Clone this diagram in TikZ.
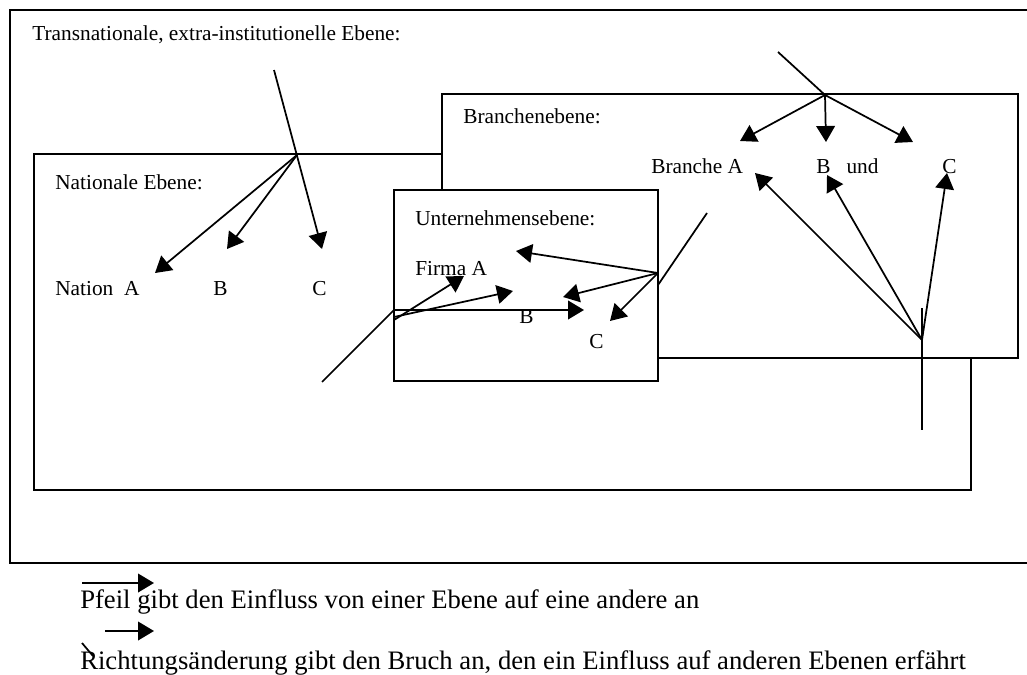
\documentclass[tikz,border=0pt]{standalone}
\usepackage{fontspec}
\setmainfont{Liberation Serif}
\usetikzlibrary{arrows.meta}
\tikzstyle{box} = [draw, fill=white, line width=1.5pt]
\tikzstyle{line} = [draw, line width=1.3pt, -{Triangle[length=12pt, width=14pt]}]
\tikzstyle{brk} = [draw, line width=1.3pt]
\tikzstyle{txt} = [anchor=base west, inner sep=0pt, font=\fontsize{16}{19}\selectfont]
\tikzstyle{note} = [anchor=base west, inner sep=0pt, font=\fontsize{20}{24}\selectfont]

\begin{document}
\begin{tikzpicture}[x=0.75pt, y=-0.75pt]
    \useasboundingbox (0,0) rectangle (1027,674);
    % Draw levels
    \draw [line width=1.5pt] (1035,10) -- (10,10) -- (10,563) -- (1035,563);
    \draw [box] (34,154) rectangle (971,490);
    \draw [box] (442,94) rectangle (1018,358);
    \draw [box] (394,190) rectangle (658,381);
    % Place nodes
    \node [txt] (trans) at (32,41) {Transnationale, extra-institutionelle Ebene:};
    \node [txt] (nat) at (55,189) {Nationale Ebene:};
    \node [txt] (natA) at (55,295) {Nation\ \ A};
    \node [txt] (natB) at (213,295) {B};
    \node [txt] (natC) at (312,295) {C};
    \node [txt] (bra) at (463,123) {Branchenebene:};
    \node [txt] (braA) at (651,173) {Branche A};
    \node [txt] (braB) at (816,173) {B\ \ \ und};
    \node [txt] (braC) at (942,173) {C};
    \node [txt] (unt) at (415,225) {Unternehmensebene:};
    \node [txt] (firA) at (415,275) {Firma A};
    \node [txt] (firB) at (519,323) {B};
    \node [txt] (firC) at (589,348) {C};
    % Place break points and arrow ends
    \coordinate (transIn) at (274,70);
    \coordinate (natJ) at (297,155);
    \coordinate (natToA) at (155,273);
    \coordinate (natToB) at (227,249);
    \coordinate (natToC) at (322,249);
    \coordinate (braIn) at (778,52);
    \coordinate (braJ) at (825,95);
    \coordinate (braToA) at (740,141);
    \coordinate (braToB) at (826,142);
    \coordinate (braToC) at (913,142);
    \coordinate (upTop) at (922,308);
    \coordinate (upBot) at (922,430);
    \coordinate (upJ) at (922,340);
    \coordinate (upToA) at (755,173);
    \coordinate (upToB) at (827,175);
    \coordinate (upToC) at (947,173);
    \coordinate (firIn) at (707,213);
    \coordinate (firEdge) at (658,285);
    \coordinate (firJ) at (658,273);
    \coordinate (firToA) at (516,251);
    \coordinate (firToB) at (563,297);
    \coordinate (firToC) at (610,321);
    \coordinate (natIn) at (322,382);
    \coordinate (natJ2) at (394,310);
    \coordinate (natJ3) at (394,320);
    \coordinate (natJ4) at (394,317);
    \coordinate (natToFA) at (464,276);
    \coordinate (natToFB) at (513,291);
    \coordinate (natToFC) at (584,310);
    % Draw edges
    \path [line] (transIn) -- (natToC);
    \path [line] (natJ) -- (natToA);
    \path [line] (natJ) -- (natToB);
    \path [brk] (braIn) -- (braJ);
    \path [line] (braJ) -- (braToA);
    \path [line] (braJ) -- (braToB);
    \path [line] (braJ) -- (braToC);
    \path [brk] (upTop) -- (upBot);
    \path [line] (upJ) -- (upToA);
    \path [line] (upJ) -- (upToB);
    \path [line] (upJ) -- (upToC);
    \path [brk] (firIn) -- (firEdge);
    \path [line] (firJ) -- (firToA);
    \path [line] (firJ) -- (firToB);
    \path [line] (firJ) -- (firToC);
    \path [brk] (natIn) -- (natJ2);
    \path [line] (natJ2) -- (natToFC);
    \path [line] (natJ3) -- (natToFA);
    \path [line] (natJ4) -- (natToFB);
    % Legend
    \coordinate (keyA1) at (82,583);
    \coordinate (keyA2) at (154,583);
    \coordinate (keyB1) at (105,631);
    \coordinate (keyB2) at (154,631);
    \coordinate (keyC1) at (82,643);
    \coordinate (keyC2) at (93,656);
    \path [line] (keyA1) -- (keyA2);
    \node [note] (keyA) at (80,608) {Pfeil gibt den Einfluss von einer Ebene auf eine andere an};
    \path [line] (keyB1) -- (keyB2);
    \path [brk] (keyC1) -- (keyC2);
    \node [note] (keyB) at (80,669) {Richtungsänderung gibt den Bruch an, den ein Einfluss auf anderen Ebenen erfährt};
\end{tikzpicture}
\end{document}
